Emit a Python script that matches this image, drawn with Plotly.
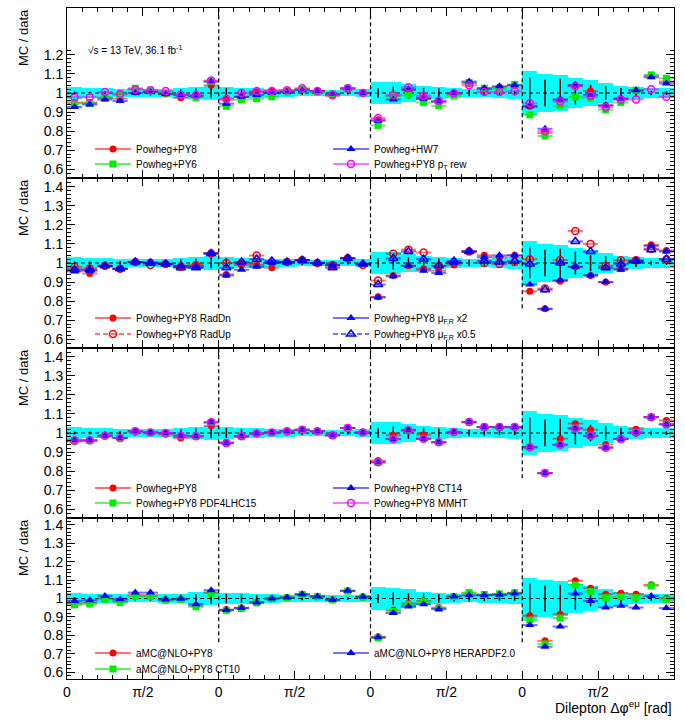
import math
import plotly.graph_objects as go
from plotly.subplots import make_subplots

PI = math.pi
N_SEG = 4
N_BINS = 10  # bins per dphi segment

# ---- data: MC / data ratios, 4 segments x 10 bins each ----
band_err = [0.029, 0.027, 0.025, 0.022, 0.020, 0.020, 0.022, 0.027, 0.033, 0.037,
            0.031, 0.028, 0.025, 0.022, 0.020, 0.018, 0.017, 0.017, 0.018, 0.020,
            0.060, 0.055, 0.049, 0.037, 0.029, 0.026, 0.021, 0.022, 0.024, 0.030,
            0.113, 0.100, 0.095, 0.080, 0.068, 0.051, 0.038, 0.032, 0.027, 0.027]
stat_err = [0.008, 0.008, 0.009, 0.010, 0.012, 0.013, 0.015, 0.020, 0.024, 0.028,
            0.026, 0.022, 0.018, 0.014, 0.012, 0.010, 0.009, 0.008, 0.008, 0.008,
            0.025, 0.034, 0.030, 0.027, 0.023, 0.015, 0.017, 0.014, 0.012, 0.012,
            0.080, 0.070, 0.075, 0.060, 0.043, 0.036, 0.026, 0.021, 0.012, 0.010]

# panel 1
p1_py8 = [0.950, 0.950, 0.975, 0.970, 1.020, 1.010, 0.995, 0.975, 0.985, 1.040,
          0.965, 0.980, 1.005, 1.010, 1.010, 1.020, 1.010, 0.985, 1.020, 1.000,
          0.860, 0.985, 1.015, 0.975, 0.955, 0.995, 1.050, 1.020, 1.030, 1.040,
          0.930, 0.790, 0.965, 1.040, 1.010, 0.935, 0.970, 1.010, 1.090, 1.060]
p1_py6 = [0.945, 0.945, 0.975, 0.990, 1.025, 1.010, 1.000, 0.990, 0.975, 1.060,
          0.930, 0.965, 0.970, 0.980, 1.005, 1.020, 1.005, 0.995, 1.025, 1.000,
          0.830, 0.985, 0.990, 0.950, 0.933, 0.985, 1.055, 1.025, 1.020, 1.045,
          0.886, 0.775, 0.933, 0.979, 0.975, 0.912, 0.950, 1.015, 1.095, 1.077]
p1_hw7 = [0.927, 0.940, 0.966, 0.958, 1.000, 1.005, 0.995, 0.990, 0.985, 1.060,
          0.944, 0.980, 0.990, 1.000, 1.005, 1.015, 1.010, 0.995, 1.025, 1.000,
          0.855, 0.966, 1.020, 0.970, 0.955, 1.000, 1.060, 1.025, 1.035, 1.040,
          0.930, 0.813, 0.966, 1.040, 0.990, 0.935, 0.970, 1.015, 1.082, 1.050]
p1_ptrew = [0.978, 0.978, 1.005, 0.995, 1.020, 1.015, 1.010, 0.990, 0.990, 1.065,
            0.970, 1.000, 1.010, 1.010, 1.015, 1.025, 1.010, 0.990, 1.025, 1.000,
            0.869, 0.990, 1.030, 0.985, 0.960, 1.000, 1.040, 1.005, 1.005, 1.010,
            0.946, 0.800, 0.955, 1.035, 0.985, 0.925, 0.965, 0.966, 1.020, 0.980]

# panel 2
p2_raddn = [0.966, 0.945, 0.985, 0.970, 1.005, 1.005, 0.995, 0.985, 0.985, 1.050,
            0.940, 0.990, 0.990, 0.975, 1.005, 1.015, 1.000, 0.985, 1.025, 0.995,
            0.823, 0.935, 0.985, 0.970, 0.960, 0.990, 1.060, 1.040, 1.030, 1.040,
            0.852, 0.760, 0.905, 0.980, 0.935, 0.900, 0.970, 1.010, 1.095, 1.066]
p2_radup = [0.980, 0.971, 0.985, 0.970, 1.005, 0.990, 0.995, 0.980, 0.990, 1.050,
            1.000, 1.000, 1.039, 1.005, 1.005, 1.015, 1.000, 0.990, 1.025, 0.990,
            0.908, 1.049, 1.070, 1.055, 0.985, 1.005, 1.060, 1.000, 0.995, 1.005,
            1.020, 0.866, 1.015, 1.168, 1.100, 0.985, 1.014, 1.015, 1.075, 1.020]
p2_mu2 = [0.956, 0.960, 0.985, 0.970, 1.005, 1.000, 0.995, 0.985, 0.980, 1.050,
          0.935, 0.965, 0.980, 1.000, 1.005, 1.015, 1.000, 0.990, 1.025, 0.995,
          0.820, 0.930, 0.985, 0.960, 0.948, 1.000, 1.060, 1.030, 1.040, 1.040,
          0.887, 0.760, 0.910, 0.980, 0.935, 0.900, 0.965, 1.005, 1.090, 1.060]
p2_mu05 = [0.965, 0.965, 0.985, 0.970, 1.005, 1.000, 0.995, 0.975, 0.975, 1.050,
           0.975, 1.005, 1.020, 1.010, 1.005, 1.015, 1.000, 0.975, 1.025, 0.995,
           0.887, 1.024, 1.060, 1.020, 0.985, 1.010, 1.060, 1.010, 1.005, 1.010,
           0.995, 0.860, 1.000, 1.113, 1.060, 0.975, 0.995, 1.010, 1.070, 1.020]

# panel 3
p3_py8 = [0.955, 0.960, 0.985, 0.974, 1.009, 1.003, 0.993, 0.974, 0.983, 1.038,
          0.950, 0.983, 0.997, 1.003, 1.009, 1.017, 1.009, 0.988, 1.026, 1.003,
          0.856, 0.988, 1.017, 0.991, 0.952, 1.005, 1.057, 1.031, 1.031, 1.031,
          0.927, 0.790, 0.970, 1.049, 1.017, 0.940, 0.969, 1.020, 1.083, 1.066]
p3_pdf4lhc = [0.960, 0.960, 0.986, 0.974, 1.009, 1.003, 1.000, 0.986, 0.983, 1.055,
              0.948, 0.983, 0.997, 1.003, 1.009, 1.017, 1.009, 0.988, 1.026, 1.003,
              0.847, 0.969, 1.014, 0.970, 0.952, 1.005, 1.057, 1.031, 1.031, 1.031,
              0.925, 0.790, 0.940, 1.026, 0.986, 0.925, 0.969, 1.003, 1.083, 1.047]
p3_ct14 = [0.962, 0.962, 0.986, 0.974, 1.009, 1.003, 1.000, 0.986, 0.983, 1.056,
           0.948, 0.983, 0.997, 1.003, 1.009, 1.017, 1.009, 0.988, 1.026, 1.003,
           0.847, 0.969, 1.014, 0.970, 0.952, 1.005, 1.057, 1.031, 1.031, 1.031,
           0.925, 0.790, 0.938, 1.024, 0.985, 0.923, 0.969, 1.003, 1.083, 1.045]
p3_mmht = [0.962, 0.962, 0.986, 0.974, 1.009, 1.003, 1.000, 0.986, 0.983, 1.056,
           0.948, 0.983, 0.997, 1.003, 1.009, 1.017, 1.009, 0.988, 1.026, 1.003,
           0.847, 0.969, 1.014, 0.970, 0.952, 1.005, 1.057, 1.031, 1.031, 1.031,
           0.925, 0.790, 0.938, 1.024, 0.985, 0.923, 0.969, 1.003, 1.083, 1.045]

# panel 4
p4_amc = [0.972, 0.977, 1.000, 0.985, 1.020, 1.018, 0.993, 0.996, 0.960, 1.033,
          0.940, 0.950, 0.980, 1.000, 1.005, 1.023, 1.011, 0.993, 1.042, 1.009,
          0.792, 0.937, 0.973, 0.987, 0.951, 1.011, 1.028, 1.020, 1.024, 1.030,
          0.906, 0.770, 0.915, 1.096, 1.056, 1.023, 1.029, 1.023, 1.074, 1.002]
p4_ct10 = [0.965, 0.970, 0.995, 0.978, 1.012, 1.012, 0.990, 0.994, 0.955, 1.028,
           0.935, 0.946, 0.976, 0.998, 1.004, 1.022, 1.010, 0.992, 1.040, 1.007,
           0.786, 0.930, 0.968, 0.982, 0.947, 1.010, 1.032, 1.022, 1.025, 1.032,
           0.883, 0.753, 0.894, 1.074, 1.038, 1.005, 1.009, 1.005, 1.069, 0.993]
p4_hera = [0.987, 0.991, 1.014, 0.996, 1.032, 1.032, 0.995, 0.998, 0.969, 1.045,
           0.937, 0.948, 0.978, 1.000, 1.005, 1.023, 1.011, 0.993, 1.042, 1.009,
           0.789, 0.921, 0.957, 0.969, 0.942, 1.011, 1.018, 1.018, 1.020, 1.027,
           0.856, 0.738, 0.848, 1.027, 0.987, 0.951, 0.960, 0.951, 1.014, 0.948]

x_ticktext = ["0", "π/2", "0", "π/2", "0", "π/2", "0", "π/2", ""]
y_ticktext = ["0.6", "0.7", "0.8", "0.9", "1", "1.1", "1.2", "1.3", "1.4"]

RED = "#ff0000"
GREEN = "#00ee00"
BLUE = "#0000ff"
MAGENTA = "#ff00ff"
FADE = {RED: "rgba(255,0,0,0.55)", GREEN: "rgba(0,230,0,0.6)",
        BLUE: "rgba(0,0,255,0.55)", MAGENTA: "rgba(255,0,255,0.55)"}

# (values, label, color, symbol, dashed, legend column, legend row)
panels = [
    [(p1_py8, "Powheg+PY8", RED, "circle", False, 0, 0),
     (p1_py6, "Powheg+PY6", GREEN, "square", False, 0, 1),
     (p1_hw7, "Powheg+HW7", BLUE, "triangle-up", False, 1, 0),
     (p1_ptrew, "Powheg+PY8 p<sub>T</sub> rew", MAGENTA, "circle-open", False, 1, 1)],
    [(p2_raddn, "Powheg+PY8 RadDn", RED, "circle", False, 0, 0),
     (p2_radup, "Powheg+PY8 RadUp", RED, "circle-open", True, 0, 1),
     (p2_mu2, "Powheg+PY8 μ<sub>F,R</sub> x2", BLUE, "triangle-up", False, 1, 0),
     (p2_mu05, "Powheg+PY8 μ<sub>F,R</sub> x0.5", BLUE, "triangle-up-open", True, 1, 1)],
    [(p3_py8, "Powheg+PY8", RED, "circle", False, 0, 0),
     (p3_pdf4lhc, "Powheg+PY8 PDF4LHC15", GREEN, "square", False, 0, 1),
     (p3_ct14, "Powheg+PY8 CT14", BLUE, "triangle-up", False, 1, 0),
     (p3_mmht, "Powheg+PY8 MMHT", MAGENTA, "circle-open", False, 1, 1)],
    [(p4_amc, "aMC@NLO+PY8", RED, "circle", False, 0, 0),
     (p4_ct10, "aMC@NLO+PY8 CT10", GREEN, "square", False, 0, 1),
     (p4_hera, "aMC@NLO+PY8 HERAPDF2.0", BLUE, "triangle-up", False, 1, 0)],
]

# ---- geometry (pixels) ----
W, H = 685, 727
M_L, M_R, M_T, M_B = 67, 11, 8, 48
panel_px = [170, 170, 170, 161]
plot_h = H - M_T - M_B
panel_top = [M_T + sum(panel_px[:i]) for i in range(4)]
y_ranges = [[0.555, 1.445], [0.555, 1.445], [0.555, 1.445], [0.563, 1.437]]
legend_rows_px = [(149, 164), (318, 334), (488, 503), (653, 669)]
legend_cols_px = [90, 328]
FONT = "Liberation Sans, Arial, Helvetica, sans-serif"


def py(pix):
    return (H - M_B - pix) / plot_h


def px(pix):
    return (pix - M_L) / (W - M_L - M_R)


bin_w = PI / N_BINS
centers = [(k + 0.5) * bin_w for k in range(N_SEG * N_BINS)]
x_max = N_SEG * PI

fig = make_subplots(rows=4, cols=1, vertical_spacing=0,
                    row_heights=[h / plot_h for h in panel_px])

leg_idx = 0
for p, series in enumerate(panels):
    row = p + 1
    # total uncertainty band
    fig.add_trace(go.Bar(x=centers, y=[2 * e for e in band_err],
                         base=[1 - e for e in band_err], width=bin_w,
                         marker=dict(color="#00ffff", line=dict(width=0)),
                         showlegend=False, hoverinfo="skip"), row=row, col=1)
    # reference line at 1
    fig.add_trace(go.Scatter(x=[0, x_max], y=[1, 1], mode="lines",
                             line=dict(color="black", width=1.2, dash="4px,3px"),
                             showlegend=False, hoverinfo="skip"), row=row, col=1)
    # data stat errors
    fig.add_trace(go.Scatter(x=centers, y=[1.0] * len(centers), mode="markers",
                             marker=dict(size=1, color="black"),
                             error_y=dict(type="data", array=stat_err, color="black",
                                          thickness=1.5, width=0),
                             showlegend=False), row=row, col=1)
    for vals, label, color, symbol, dashed, col, r in series:
        is_open = symbol.endswith("open")
        size = 8 if symbol.startswith("triangle") else 7
        marker = dict(symbol=symbol, size=size, color=color,
                      line=dict(color=color, width=1.5 if is_open else 0))
        fig.add_trace(go.Scatter(x=centers, y=vals, mode="markers", marker=marker,
                                 error_x=dict(type="constant", value=bin_w / 2,
                                              color=FADE[color], thickness=2, width=0),
                                 showlegend=False, name=label), row=row, col=1)
        # legend entry (line + marker, ROOT style)
        leg_idx += 1
        leg_name = "legend" if leg_idx == 1 else f"legend{leg_idx}"
        fig.add_trace(go.Scatter(x=[None], y=[None], mode="lines+markers", name=label,
                                 marker=marker,
                                 line=dict(color=FADE[color], width=2,
                                           dash="5px,3px" if dashed else "solid"),
                                 legend=leg_name, showlegend=True), row=row, col=1)
        fig.update_layout({leg_name: dict(
            x=px(legend_cols_px[col]), y=py(legend_rows_px[p][r]),
            xanchor="left", yanchor="middle", bgcolor="rgba(0,0,0,0)",
            font=dict(family=FONT, size=10, color="black"),
            itemwidth=36, tracegroupgap=0)})

    # segment separators
    for s in range(1, N_SEG):
        fig.add_shape(type="line", x0=s * PI, x1=s * PI, y0=0.763, y1=y_ranges[p][1],
                      line=dict(color="black", width=1.2, dash="4px,3px"),
                      row=row, col=1)

    # axes
    fig.update_xaxes(range=[0, x_max], showline=True, linecolor="black", linewidth=1,
                     mirror="allticks", ticks="inside", ticklen=8, tickcolor="black",
                     tickvals=[k * PI / 2 for k in range(2 * N_SEG + 1)],
                     ticktext=x_ticktext, showticklabels=(row == 4),
                     tickfont=dict(family=FONT, size=14, color="black"),
                     showgrid=False, zeroline=False,
                     minor=dict(ticks="inside", ticklen=4, tickcolor="black",
                                tick0=0, dtick=bin_w, showgrid=False),
                     row=row, col=1)
    if p == 0:
        ytv = [0.6 + 0.1 * i for i in range(7)]
        ytt = y_ticktext[:7]
        minor = dict(ticks="inside", ticklen=4, tickcolor="black", tickmode="array",
                     tickvals=[0.56 + 0.02 * i for i in range(34)], showgrid=False)
    else:
        ytv = [0.6 + 0.1 * i for i in range(9)]
        ytt = y_ticktext
        minor = dict(ticks="inside", ticklen=4, tickcolor="black",
                     tick0=0, dtick=0.02, showgrid=False)
    fig.update_yaxes(range=y_ranges[p], showline=True, linecolor="black", linewidth=1,
                     mirror="allticks", ticks="inside", ticklen=8, tickcolor="black",
                     tickvals=ytv, ticktext=ytt,
                     tickfont=dict(family=FONT, size=14, color="black"),
                     showgrid=False, zeroline=False, minor=minor, row=row, col=1)

    fig.add_annotation(text="MC / data", textangle=-90, xref="paper", yref="paper",
                       x=px(23), y=py(panel_top[p] + 30), xanchor="center",
                       yanchor="middle", showarrow=False,
                       font=dict(family=FONT, size=13, color="black"))

fig.add_annotation(text="√s = 13 TeV, 36.1 fb<sup>-1</sup>", xref="paper", yref="paper",
                   x=px(86), y=py(50), xanchor="left", yanchor="middle",
                   showarrow=False, font=dict(family=FONT, size=10, color="black"))
fig.add_annotation(text="Dilepton Δφ<sup>eμ</sup> [rad]", xref="paper", yref="paper",
                   x=1, y=py(707), xanchor="right", yanchor="middle",
                   showarrow=False, font=dict(family=FONT, size=14, color="black"))

fig.update_layout(width=W, height=H, margin=dict(l=M_L, r=M_R, t=M_T, b=M_B),
                  paper_bgcolor="white", plot_bgcolor="white", bargap=0,
                  showlegend=True, font=dict(family=FONT, color="black"))

# page body margin would shift the fixed-size figure; drop it
fig.write_html("out.html", config={"displayModeBar": False},
               post_script="document.body.style.margin = '0';")
